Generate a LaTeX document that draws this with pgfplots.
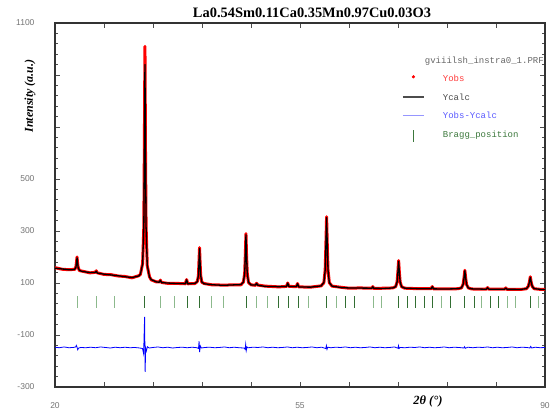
\documentclass[border=0pt]{standalone}
\usepackage{pgfplots}
\pgfplotsset{compat=1.18}
\usepackage{fontspec}
\setmainfont{Liberation Serif}
\setsansfont{Liberation Sans}
\setmonofont{Liberation Mono}
\definecolor{obsred}{RGB}{255,0,0}
\definecolor{difblue}{RGB}{0,0,255}
\definecolor{bragdark}{RGB}{50,110,50}
\definecolor{braglight}{RGB}{140,185,140}
\definecolor{legred}{RGB}{255,60,60}
\definecolor{legblue}{RGB}{90,90,255}
\definecolor{leggreen}{RGB}{60,120,60}
\definecolor{legline}{RGB}{150,150,255}
\begin{document}
\begin{tikzpicture}
\path[use as bounding box] (-55pt,-28pt) rectangle (500pt,387pt);
\begin{axis}[
 at={(0pt,0pt)}, anchor=south west,
 scale only axis, width=490pt, height=364pt,
 xmin=20, xmax=90, ymin=-300, ymax=1100,
 xtick={20,27,...,90}, xticklabels={20,,,,,55,,,,,90},
 ytick={-300,-100,...,1100}, yticklabels={-300,-100,100,300,500,,,1100},
 minor y tick num=4,
 tick align=inside, xtick pos=both, ytick pos=both,
 major tick length=5pt, minor tick length=3pt,
 tick style={black!70, line width=0.8pt},
 axis line style={black!80, line width=1.2pt},
 /pgf/number format/assume math mode=true,
 ticklabel style={font=\sffamily\fontsize{8.5}{9}\selectfont, text=black!55},
 yticklabel style={xshift=-17pt},
 xticklabel style={yshift=-12.5pt},
 title={La0.54Sm0.11Ca0.35Mn0.97Cu0.03O3},
 title style={at={(axis description cs:0.5245,1.011)}, anchor=center, yshift=0pt, font=\bfseries\fontsize{14.4}{16}\selectfont},
 xlabel={2θ (°)},
 xlabel style={at={(axis description cs:0.761,-0.0404)}, anchor=center, font=\bfseries\itshape\fontsize{12.5}{14}\selectfont},
 ylabel={Intensity (a.u.)},
 ylabel style={at={(axis description cs:-0.051,0.799)}, anchor=center, font=\bfseries\itshape\fontsize{12}{14}\selectfont},
 legend style={at={(axis description cs:0.708,0.908)}, anchor=north west, draw=none, fill=none,
   inner sep=0pt, outer sep=0pt, row sep=9.3pt, column sep=18pt,
   font=\ttfamily\fontsize{9}{10}\selectfont,
   nodes={inner sep=0pt, text height=7pt, text depth=2pt}},
 legend cell align=left,
]
% Yobs
\addplot[forget plot, obsred, line width=3pt, line join=round] coordinates {
(20,159)(21,153)(22.0,151)(22.5,152)(22.82,152)(22.99,162)(23.07,180)(23.15,200)(23.23,175)(23.31,160)(23.48,148)(23.8,146)
(25.0,139)(25.74,141)(25.82,144)(25.9,147)(25.98,141)(26.06,139)(27.0,133)(28.0,132)(29.0,127)(30.0,125)(31.0,120)
(31.97,128)(32.2,133)(32.52,176)(32.69,316)(32.77,640)(32.85,1010)(32.93,598)(33.01,320)(33.18,166)(33.5,124)(33.75,112)
(34.5,104)(34.89,104)(34.97,106)(35.05,111)(35.13,106)(35.22,102)(36.0,99)(37.0,99)(38.64,97)(38.72,107)(38.8,113)(38.88,105)(38.96,97)
(40.0,98)(40.33,106)(40.49,127)(40.57,182)(40.65,236)(40.73,175)(40.81,130)(40.97,103)(41.3,98)(42.4,93)(44.0,92)
(46.56,93)(46.92,104)(47.1,137)(47.195,212)(47.28,290)(47.365,205)(47.46,139)(47.64,102)(48.0,93)(48.63,91)(48.8,99)(48.97,92)
(50.0,88)(52.0,85)(53.08,87)(53.17,94)(53.25,100)(53.33,93)(53.42,87)(54.48,86)(54.57,93)(54.65,98)(54.73,91)(54.82,85)
(56.5,84)(58.02,89)(58.41,101)(58.6,151)(58.7,246)(58.8,355)(58.9,243)(59.0,151)(59.19,101)(59.58,88)(61.0,83)(62.0,80)
(63.5,81)(65.27,80)(65.4,86)(65.53,79)(67.0,80)(68.24,81)(68.67,86)(68.875,105)(68.986,143)(69.09,186)(69.194,141)(69.305,104)
(69.51,86)(69.94,80)(72.0,78)(73.74,78)(73.82,83)(73.9,86)(73.98,82)(74.06,77)(76.0,77)(77.575,78)(78.06,81)(78.303,95)
(78.433,120)(78.55,149)(78.667,119)(78.797,94)(79.04,81)(79.525,77)(81.6,76)(81.8,82)(82.0,76)(84.2,76)(84.4,81)(84.6,75)
(86.5,75)(87.35,78)(87.62,88)(87.77,103)(87.9,124)(88.03,102)(88.18,87)(88.45,78)(89.5,75)(90.0,75)
};
% Ycalc
\addplot[forget plot, black, line width=1.3pt, line join=round] coordinates {
(20,157)(21,154)(22.0,151)(22.5,151)(22.82,153)(22.99,160)(23.07,177)(23.15,197)(23.23,177)(23.31,159)(23.48,149)(23.8,145)
(25.0,140)(25.74,140)(25.82,143)(25.9,145)(25.98,142)(26.06,138)(27.0,134)(28.0,131)(29.0,128)(30.0,124)(31.0,121)
(31.97,127)(32.2,134)(32.52,174)(32.69,321)(32.77,610)(32.85,940)(32.93,609)(33.01,318)(33.18,168)(33.5,123)(33.75,113)
(34.5,104)(34.89,103)(34.97,107)(35.05,110)(35.13,107)(35.22,101.5)(36.0,100)(37.0,98.5)(38.64,97.5)(38.72,106)(38.8,112)(38.88,106)(38.96,96.5)
(40.0,98.7)(40.33,105)(40.49,129)(40.57,177)(40.65,232)(40.73,177)(40.81,129)(40.97,104)(41.3,97)(42.4,93.5)(44.0,91)
(46.56,94)(46.92,103.5)(47.1,138.6)(47.195,207.5)(47.28,285.5)(47.365,207.4)(47.46,138)(47.64,102.7)(48.0,92.7)(48.63,92)(48.8,98.5)(48.97,91.5)
(50.0,87)(52.0,86)(53.08,86.8)(53.17,93.6)(53.25,99.5)(53.33,93.4)(53.42,86.3)(54.48,86.2)(54.57,92)(54.65,97)(54.73,92)(54.82,84.8)
(56.5,84)(58.02,88.8)(58.41,102)(58.6,150)(58.7,244)(58.8,351)(58.9,244)(59.0,150)(59.19,101.6)(59.58,87.9)(61.0,82)(62.0,81)
(63.5,80.5)(65.27,80)(65.4,85.5)(65.53,79.5)(67.0,79)(68.24,80.9)(68.67,86)(68.875,104.5)(68.986,141.5)(69.09,183.5)(69.194,141.5)(69.305,104.4)
(69.51,85.7)(69.94,80.3)(72.0,78)(73.74,77.6)(73.82,82.5)(73.9,85.5)(73.98,82.4)(74.06,77.4)(76.0,77)(77.575,78)(78.06,81.4)(78.303,94.3)
(78.433,119.3)(78.55,147.3)(78.667,119.3)(78.797,94.2)(79.04,81.1)(79.525,77.4)(81.6,76)(81.8,81.5)(82.0,75.9)(84.2,75.6)(84.4,80.5)(84.6,75.5)
(86.5,75.3)(87.35,78.3)(87.62,87)(87.77,103)(87.9,122)(88.03,103)(88.18,87)(88.45,78.3)(89.5,75)(90.0,75)
};
% Yobs - Ycalc (offset)
\addplot[forget plot, difblue, line width=0.8pt] coordinates {
(20,-147)(20.6,-149)(21.3,-146)(22,-149)(22.6,-148)(22.95,-146)(23.05,-140)(23.15,-147)(23.25,-157)(23.38,-150)(23.7,-148)
(24.4,-149)(25.1,-147)(25.8,-149)(26.5,-146)(27.2,-148)(27.9,-150)(28.6,-147)(29.3,-149)(30.0,-147)(30.7,-149)(31.4,-148)
(32.1,-150)(32.5,-152)(32.66,-172)(32.74,-90)(32.8,-30)(32.88,-242)(32.95,-150)(33.05,-162)(33.2,-145)(33.45,-150)(34.0,-148)
(34.7,-146)(35.4,-149)(36.1,-147)(36.8,-150)(37.5,-148)(38.2,-147)(38.9,-149)(39.6,-147)(40.3,-149)(40.5,-152)(40.58,-124)
(40.66,-166)(40.76,-142)(40.9,-150)(41.4,-148)(42.1,-147)(42.8,-149)(43.5,-148)(44.2,-146)(44.9,-149)(45.6,-147)(46.3,-149)
(47.0,-150)(47.16,-155)(47.24,-136)(47.32,-160)(47.42,-146)(47.6,-149)(48.3,-147)(49.0,-148)(49.7,-146)(50.4,-149)(51.1,-147)
(51.8,-149)(52.5,-148)(53.2,-146)(53.9,-149)(54.6,-147)(55.3,-149)(56.0,-148)(56.7,-146)(57.4,-149)(58.1,-147)(58.68,-152)
(58.77,-141)(58.86,-155)(58.96,-147)(59.4,-149)(60.1,-147)(60.8,-148)(61.5,-146)(62.2,-149)(62.9,-147)(63.6,-149)(64.3,-148)
(65.0,-146)(65.7,-149)(66.4,-147)(67.1,-149)(67.8,-148)(68.5,-146)(69.0,-151)(69.07,-141)(69.16,-152)(69.3,-148)(70.0,-149)
(70.7,-147)(71.4,-148)(72.1,-146)(72.8,-149)(73.5,-147)(74.2,-149)(74.9,-148)(75.6,-146)(76.3,-149)(77.0,-147)(77.7,-148)
(78.4,-150)(78.5,-145)(78.62,-151)(79.0,-147)(79.7,-149)(80.4,-147)(81.1,-148)(81.8,-146)(82.5,-149)(83.2,-147)(83.9,-149)
(84.6,-148)(85.3,-146)(86.0,-149)(86.7,-147)(87.4,-148)(87.85,-150)(87.95,-144)(88.1,-150)(88.6,-147)(89.3,-149)(90,-148)
};
% Bragg positions
\addplot[forget plot, only marks, mark=|, mark size=6pt, mark options={line width=0.9pt, braglight}] coordinates {
(23.19,26)(25.97,26)(28.5,26)(35.08,26)(37.0,26)(42.42,26)(44.04,26)(48.85,26)(50.36,26)(56.18,26)(60.23,26)
(65.45,26)(66.61,26)(75.16,26)(80.98,26)(84.58,26)(85.79,26)(89.13,26)
};
\addplot[forget plot, only marks, mark=|, mark size=6pt, mark options={line width=0.9pt, bragdark}] coordinates {
(32.85,26)(38.88,26)(40.65,26)(47.28,26)(51.88,26)(53.3,26)(54.72,26)(58.8,26)(61.55,26)(62.81,26)(69.09,26)
(70.36,26)(71.52,26)(72.78,26)(73.9,26)(76.43,26)(78.55,26)(79.87,26)(82.25,26)(83.41,26)(87.9,26)
};
% Legend
\addlegendimage{empty legend}
\addlegendentry{\hspace*{-18pt}\textcolor{black!60}{gviiilsh\_instra0\_1.PRF}}
\addlegendimage{legend image code/.code={\fill[obsred] (10.5pt,2.5pt) circle (1.4pt);}}
\addlegendentry{\textcolor{legred}{Yobs}}
\addlegendimage{legend image code/.code={\draw[black!70, line width=2pt] (0pt,0.5pt) -- (21pt,0.5pt);}}
\addlegendentry{\textcolor{black!70}{Ycalc}}
\addlegendimage{legend image code/.code={\draw[legline, line width=0.9pt] (0pt,0.5pt) -- (21pt,0.5pt);}}
\addlegendentry{\textcolor{legblue}{Yobs-Ycalc}}
\addlegendimage{legend image code/.code={\draw[leggreen, line width=0.9pt] (10.5pt,-6.3pt) -- (10.5pt,5.3pt);}}
\addlegendentry{\textcolor{leggreen}{Bragg\_position}}
\end{axis}
\end{tikzpicture}
\end{document}
